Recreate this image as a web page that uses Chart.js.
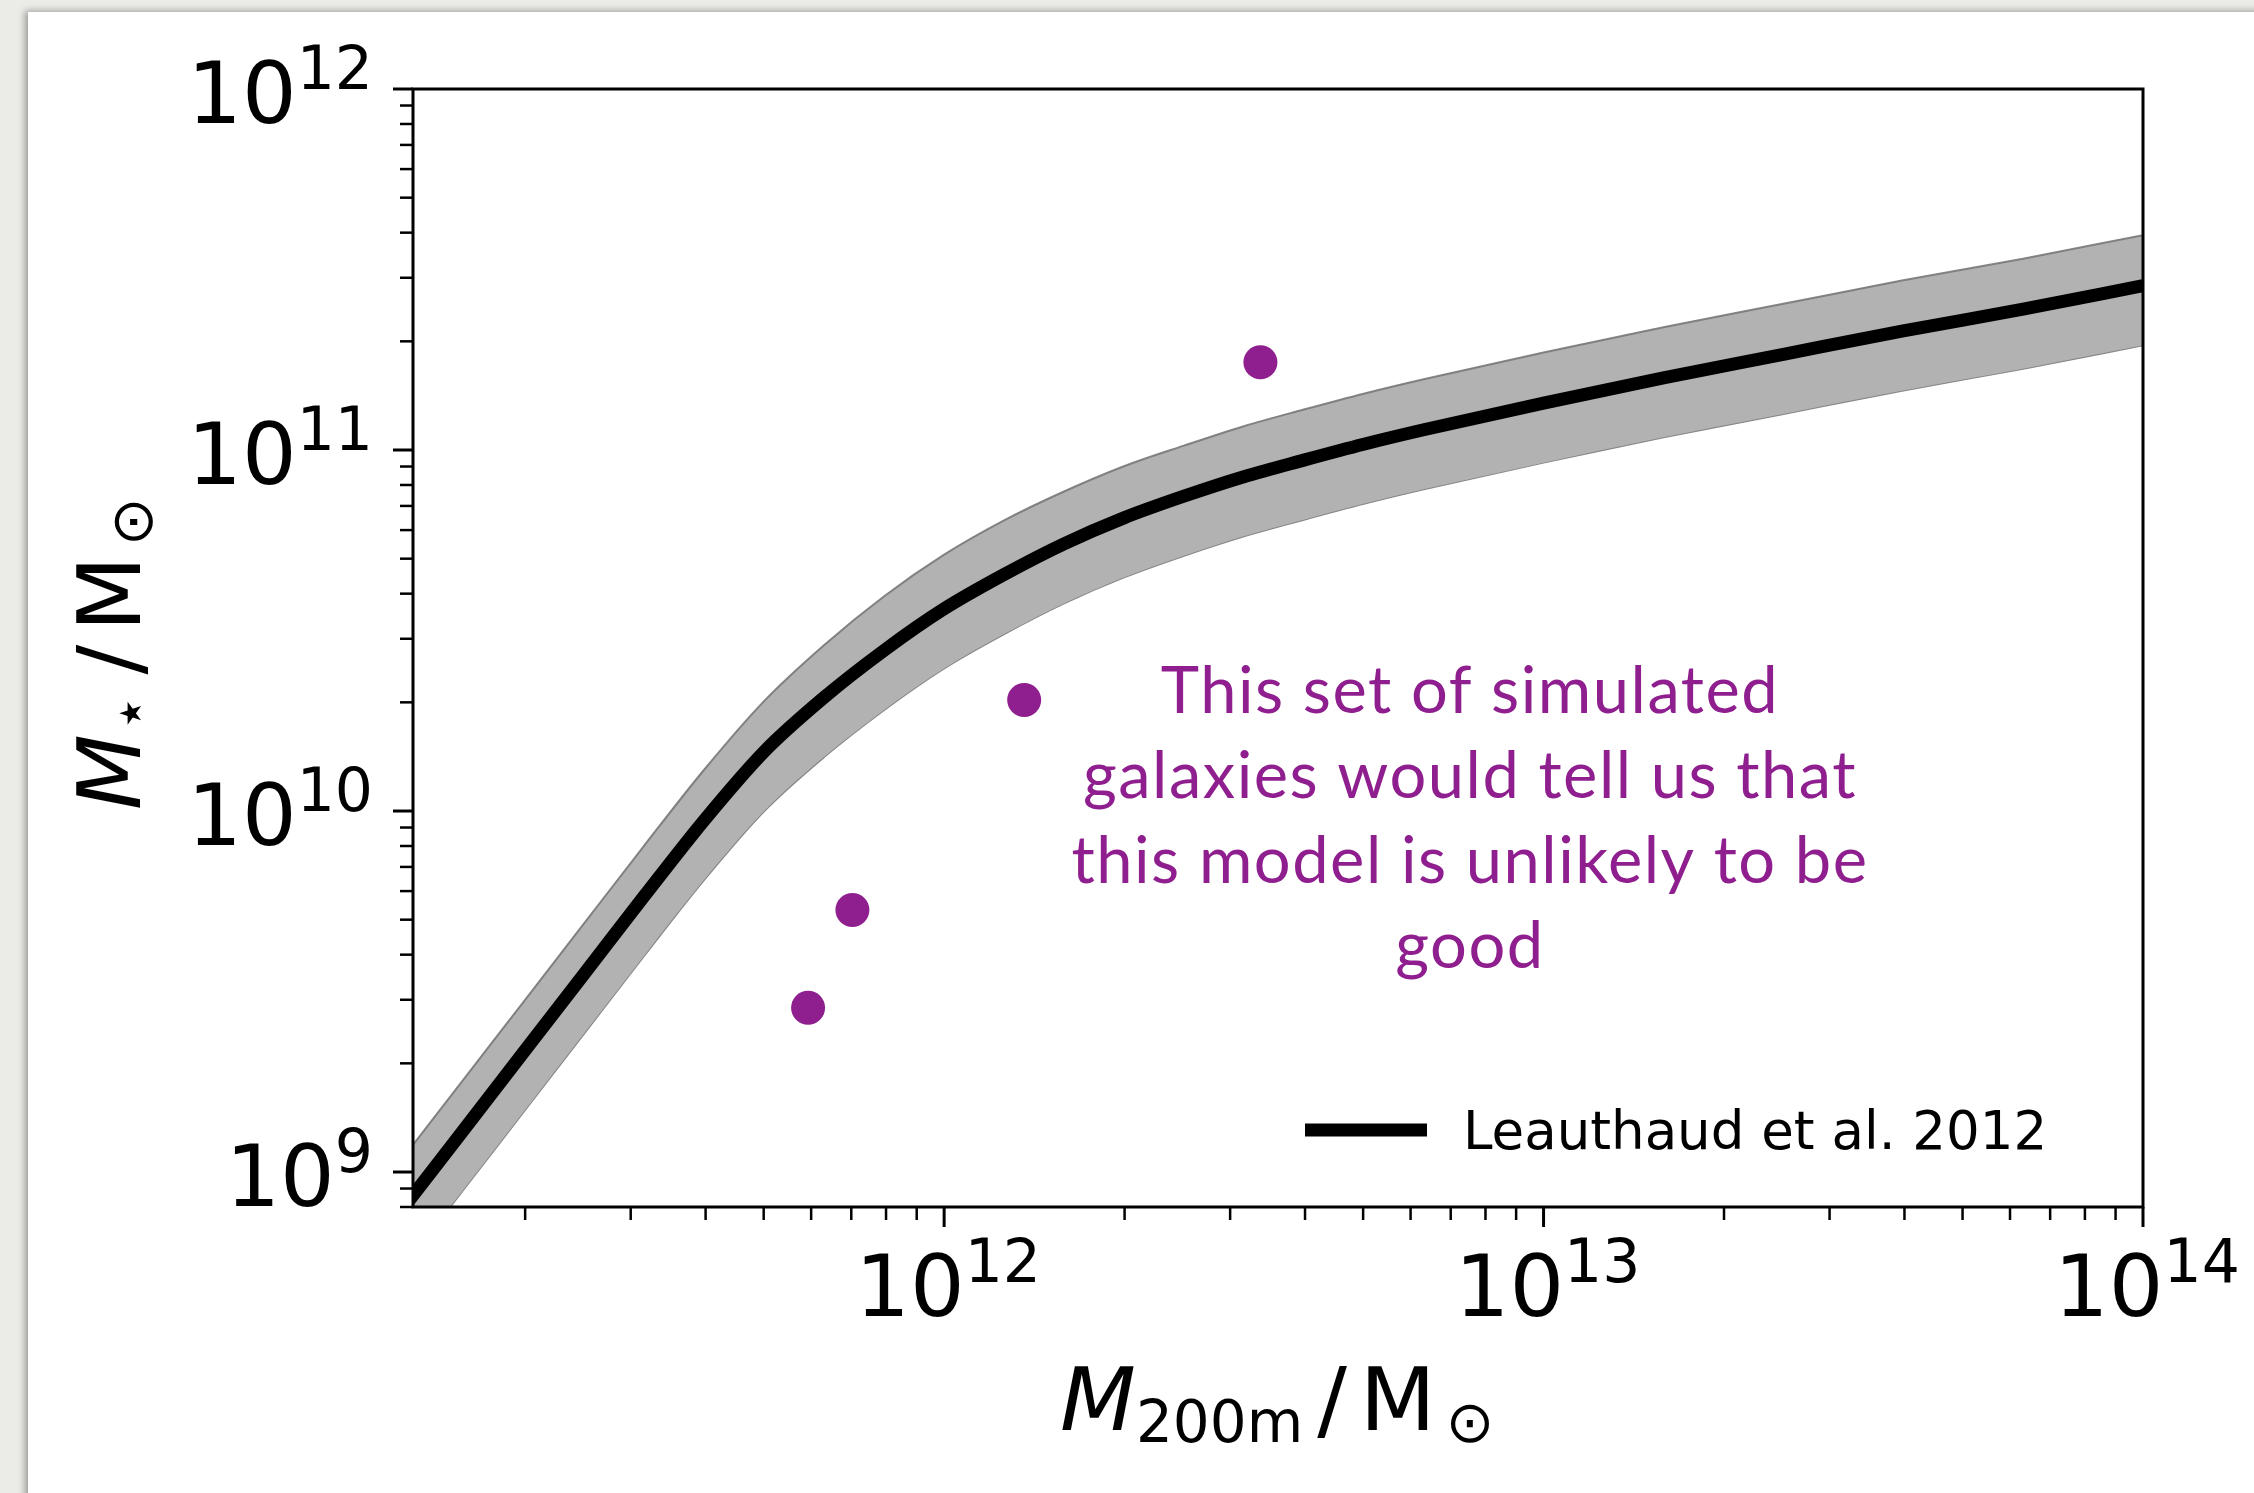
<!DOCTYPE html>
<html>
<head>
<meta charset="utf-8">
<script src="https://cdn.jsdelivr.net/npm/chart.js@4.4.1/dist/chart.umd.min.js"></script>
<style>
  html, body { margin: 0; padding: 0; background: #ebebe8; overflow: hidden; }
  .paper { position: absolute; left: 28px; top: 12px; width: 2240px; height: 1500px; background: #fff;
           box-shadow: -3px -1px 7px rgba(0,0,0,0.35); }
  #chart { position: absolute; left: 0; top: 0; }
</style>
</head>
<body>
<div class="paper"></div>
<canvas id="chart" width="2254" height="1493"></canvas>
<script>
// log10 halo mass M200m / Msun
const logHalo = [11.0, 11.1, 11.2, 11.3, 11.4, 11.5, 11.6, 11.7, 11.8, 11.9, 12.0, 12.1, 12.2, 12.3,
                 12.4, 12.5, 12.6, 12.7, 12.8, 13.0, 13.2, 13.4, 13.6, 13.8, 14.0];
// log10 stellar mass, Leauthaud et al. 2012 relation (median, upper and lower edge of the band)
const logStarMid = [8.69, 8.905, 9.12, 9.335, 9.55, 9.765, 9.975, 10.165, 10.315, 10.445, 10.56, 10.655, 10.74, 10.812,
                    10.872, 10.926, 10.972, 11.016, 11.056, 11.13, 11.20, 11.265, 11.33, 11.39, 11.455];
const logStarHi  = [8.83, 9.045, 9.26, 9.475, 9.69, 9.905, 10.115, 10.305, 10.46, 10.595, 10.71, 10.805, 10.885, 10.955,
                    11.012, 11.066, 11.112, 11.156, 11.196, 11.27, 11.34, 11.405, 11.47, 11.53, 11.595];
const logStarLo  = [8.525, 8.74, 8.955, 9.17, 9.385, 9.60, 9.81, 10.0, 10.15, 10.28, 10.395, 10.49, 10.575, 10.647,
                    10.707, 10.761, 10.807, 10.851, 10.891, 10.965, 11.035, 11.10, 11.165, 11.225, 11.29];

// simulated galaxies
const simHalo = [5.93e11, 7.03e11, 1.36e12, 3.37e12];
const simStar = [2.85e9, 5.32e9, 2.03e10, 1.75e11];

const xTickExp = [12, 13, 14];
const yTickExp = [9, 10, 11, 12];
const noteLines = ['This set of simulated', 'galaxies would tell us that', 'this model is unlikely to be', 'good'];
const legendLabel = 'Leauthaud et al. 2012';

const toPts = (ys) => logHalo.map((lx, i) => ({ x: Math.pow(10, lx), y: Math.pow(10, ys[i]) }));
const purple = '#8f1f8f';
const DV = '"DejaVu Sans", sans-serif';

function runsWidth(ctx, runs) {
  let w = 0;
  runs.forEach(r => { ctx.font = r.font; w += ctx.measureText(r.t).width + (r.gap || 0); });
  return w;
}
function drawRuns(ctx, runs, x, y) {
  let cx = x;
  runs.forEach(r => {
    ctx.font = r.font;
    ctx.fillText(r.t, cx, y + (r.dy || 0));
    cx += ctx.measureText(r.t).width + (r.gap || 0);
  });
}
const powRuns = (e) => [{ t: '10', font: '86px ' + DV }, { t: String(e), font: '60px ' + DV, dy: -34 }];

const decorations = {
  id: 'decorations',
  afterDatasetsDraw(chart) {
    const { ctx, chartArea: a, scales: { x, y } } = chart;
    ctx.save();
    ctx.strokeStyle = '#000';
    ctx.fillStyle = '#000';
    ctx.textBaseline = 'alphabetic';
    ctx.textAlign = 'left';

    // ticks (bottom and left only, like matplotlib)
    const tick = (w, x1, y1, x2, y2) => {
      ctx.lineWidth = w; ctx.beginPath(); ctx.moveTo(x1, y1); ctx.lineTo(x2, y2); ctx.stroke();
    };
    for (let e = 11; e <= 14; e++) {
      for (let m = 1; m <= 9; m++) {
        const v = m * Math.pow(10, e);
        if (v < x.min || v > x.max) continue;
        const px = x.getPixelForValue(v);
        tick(m === 1 ? 3 : 2.5, px, a.bottom, px, a.bottom + (m === 1 ? 20 : 13));
      }
    }
    for (let e = 8; e <= 12; e++) {
      for (let m = 1; m <= 9; m++) {
        const v = m * Math.pow(10, e);
        if (v < y.min || v > y.max) continue;
        const py = y.getPixelForValue(v);
        tick(m === 1 ? 3 : 2.5, a.left, py, a.left - (m === 1 ? 20 : 13), py);
      }
    }

    // frame
    ctx.lineWidth = 3;
    ctx.strokeRect(a.left, a.top, a.right - a.left, a.bottom - a.top);

    // tick labels
    xTickExp.forEach(e => {
      const px = x.getPixelForValue(Math.pow(10, e));
      const r = powRuns(e);
      drawRuns(ctx, r, px - runsWidth(ctx, r) / 2 + 4, a.bottom + 109);
    });
    yTickExp.forEach(e => {
      const py = y.getPixelForValue(Math.pow(10, e));
      const r = powRuns(e);
      drawRuns(ctx, r, a.left - 40 - runsWidth(ctx, r), py + 34);
    });

    // axis titles
    drawRuns(ctx, [
      { t: 'M', font: 'italic 88px ' + DV },
      { t: '200m', font: '58px ' + DV, dy: 12, gap: 14 },
      { t: '/', font: '88px ' + DV, gap: 13 },
      { t: 'M', font: '88px ' + DV, gap: 10 },
      { t: '\u2299', font: '58px ' + DV, dy: 12 }
    ], 1060, 1430);

    ctx.save();
    ctx.translate(140, 810);
    ctx.rotate(-Math.PI / 2);
    drawRuns(ctx, [
      { t: 'M', font: 'italic 88px ' + DV, gap: 2 },
      { t: '\u22c6', font: '60px ' + DV, dy: 10, gap: 20 },
      { t: '/', font: '88px ' + DV, gap: 13 },
      { t: 'M', font: '88px ' + DV, gap: 10 },
      { t: '\u2299', font: '58px ' + DV, dy: 12 }
    ], 0, 0);
    ctx.restore();

    // legend
    const ds = chart.data.datasets[2];
    ctx.strokeStyle = ds.borderColor;
    ctx.lineWidth = ds.borderWidth;
    ctx.beginPath(); ctx.moveTo(1305, 1130); ctx.lineTo(1427, 1130); ctx.stroke();
    ctx.font = '53px ' + DV;
    ctx.fillText(legendLabel, 1463, 1149);

    // annotation
    ctx.fillStyle = purple;
    ctx.textAlign = 'center';
    ctx.font = '65px Lato, "Open Sans", sans-serif';
    ctx.letterSpacing = '1.5px';
    noteLines.forEach((s, i) => ctx.fillText(s, 1470, 713 + i * 85));
    ctx.restore();
  }
};

new Chart(document.getElementById('chart').getContext('2d'), {
  type: 'line',
  data: {
    datasets: [
      { label: 'upper', data: toPts(logStarHi), borderColor: 'rgba(120,120,120,0.9)', borderWidth: 2,
        backgroundColor: '#b2b2b2', fill: '+1', pointRadius: 0, clip: 0, order: 3 },
      { label: 'lower', data: toPts(logStarLo), borderColor: 'rgba(120,120,120,0.9)', borderWidth: 2,
        fill: false, pointRadius: 0, clip: 0, order: 3 },
      { label: legendLabel, data: toPts(logStarMid), borderColor: '#000', borderWidth: 13,
        fill: false, pointRadius: 0, clip: 0, order: 1 },
      { label: 'simulated galaxies', data: simHalo.map((h, i) => ({ x: h, y: simStar[i] })), showLine: false,
        pointRadius: 17, pointBackgroundColor: purple, pointBorderWidth: 0, order: 0 }
    ]
  },
  options: {
    responsive: false,
    animation: false,
    devicePixelRatio: 1,
    layout: { padding: { left: 413, right: 111, top: 89, bottom: 286 } },
    elements: { line: { cubicInterpolationMode: 'monotone' } },
    scales: {
      x: { type: 'logarithmic', min: 1.3e11, max: 1e14, display: false },
      y: { type: 'logarithmic', min: 8e8, max: 1e12, display: false }
    },
    plugins: { legend: { display: false }, tooltip: { enabled: false } }
  },
  plugins: [decorations]
});
</script>
</body>
</html>
